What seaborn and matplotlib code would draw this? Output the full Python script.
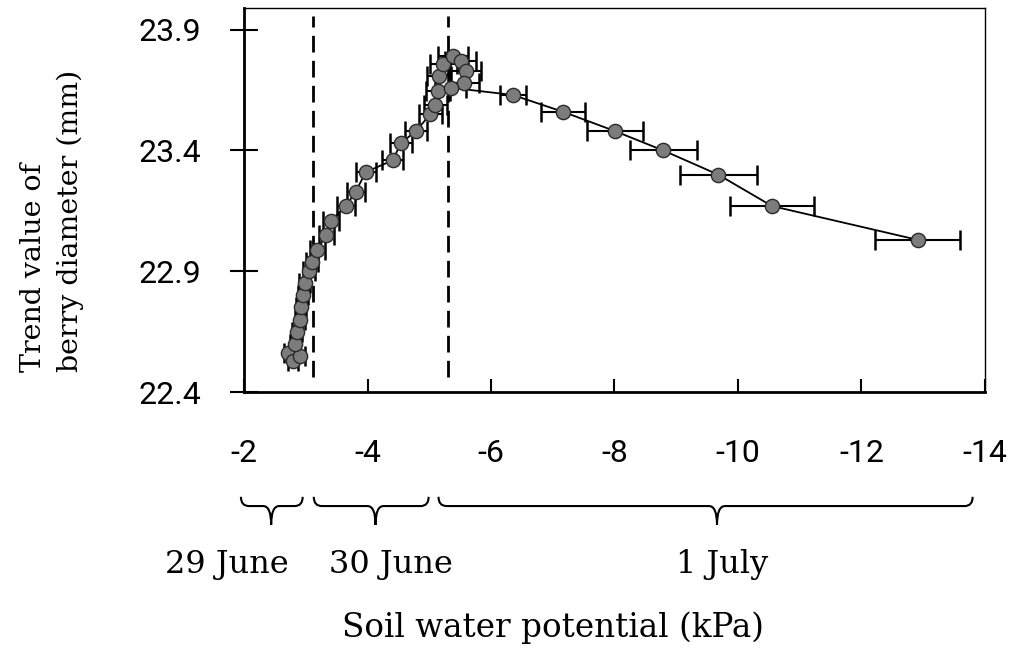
import numpy as np
import pandas as pd
import matplotlib
matplotlib.use("Agg")
import matplotlib.pyplot as plt
import matplotlib.transforms as mtransforms
from matplotlib.path import Path
from matplotlib.patches import PathPatch
import seaborn as sns

# ---------------- data ----------------
soil_kpa = [-2.72, -2.80, -2.90, -2.82, -2.86, -2.90, -2.93, -2.95, -2.98, -3.05, -3.10,
            -3.19, -3.33, -3.41, -3.65, -3.81, -3.97, -4.41, -4.54, -4.78, -5.02, -5.10,
            -5.14, -5.16, -5.23, -5.38, -5.51, -5.59, -5.56, -5.35,
            -6.35, -7.17, -8.01, -8.79, -9.68, -10.55, -12.91]
diameter_mm = [22.56, 22.53, 22.55, 22.60, 22.65, 22.70, 22.75, 22.80, 22.85, 22.90, 22.94,
               22.99, 23.05, 23.11, 23.17, 23.23, 23.31, 23.36, 23.43, 23.48, 23.55, 23.59,
               23.645, 23.71, 23.76, 23.79, 23.77, 23.73, 23.68, 23.66,
               23.63, 23.56, 23.48, 23.40, 23.30, 23.17, 23.03]
soil_err = [0.08, 0.08, 0.08, 0.08, 0.08, 0.08, 0.08, 0.08, 0.09, 0.10, 0.10,
            0.12, 0.12, 0.13, 0.14, 0.15, 0.16, 0.17, 0.18, 0.18, 0.19, 0.19,
            0.20, 0.20, 0.22, 0.24, 0.25, 0.25, 0.25, 0.25,
            0.21, 0.36, 0.45, 0.54, 0.62, 0.68, 0.69]

phase_boundaries = [-3.12, -5.30]
date_labels = ["29 June", "30 June", "1 July"]
date_spans = [(-1.95, -2.95), (-3.13, -4.99), (-5.15, -13.8)]
date_tips = [-2.44, -4.13, -9.66]
date_label_x = [-1.725, -4.377, -9.745]

x_ticks = [-2, -4, -6, -8, -10, -12, -14]
y_ticks = [22.4, 22.9, 23.4, 23.9]

df = pd.DataFrame({"soil": soil_kpa, "diam": diameter_mm, "err": soil_err})

# ---------------- style ----------------
sns.set_style("ticks")
plt.rcParams["font.family"] = ["DejaVu Serif"]
plt.rcParams["text.color"] = "black"
plt.rcParams["xtick.color"] = "black"
plt.rcParams["ytick.color"] = "black"

fig = plt.figure(figsize=(10.15, 6.57), dpi=100)
ax = fig.add_axes([244 / 1015, 1 - 392 / 657, (985 - 244) / 1015, (392 - 8) / 657])

# trend line
sns.lineplot(data=df, x="soil", y="diam", sort=False, color="black", lw=1.3, ax=ax,
             zorder=2, estimator=None)
# error bars
ax.errorbar(df["soil"], df["diam"], xerr=df["err"], fmt="none", ecolor="black",
            elinewidth=1.5, capsize=7, capthick=1.8, zorder=3)
# markers
sns.scatterplot(data=df, x="soil", y="diam", s=105, color="#7c7c7c", edgecolor="#2a2a2a",
                linewidth=1.0, ax=ax, zorder=4)

# dashed phase lines
for xb in phase_boundaries:
    ax.axvline(xb, ymin=0.04, ymax=0.98, color="black", lw=2.0, ls=(0, (6, 3)), zorder=1)

ax.set_xlim(-2, -14)
ax.set_ylim(22.4, 23.99)
ax.set_xticks(x_ticks)
ax.set_xticklabels([str(t) for t in x_ticks])
ax.set_yticks(y_ticks)
ax.set_yticklabels([f"{t:.1f}" for t in y_ticks])
ax.tick_params(axis="x", direction="in", length=9.5, width=1.5, pad=34, labelsize=23)
ax.tick_params(axis="y", direction="inout", length=20, width=1.5, pad=21, labelsize=23)
for lab in ax.get_xticklabels() + ax.get_yticklabels():
    lab.set_fontfamily(["Roboto", "DejaVu Sans"])
    lab.set_fontweight("normal")
ax.set_xlabel("")
ax.set_ylabel("")
for side, sp in ax.spines.items():
    sp.set_color("black")
    sp.set_linewidth(2.0 if side in ("left", "bottom") else 1.0)

# braces + date labels
trans = mtransforms.blended_transform_factory(ax.transData, ax.transAxes)
yt, ym, yb = -0.273, -0.297, -0.346
d = 0.13
for (xl, xr), xt in zip(date_spans, date_tips):
    verts = [(xl, yt), (xl, ym), (xl - d, ym), (xt + d, ym), (xt, ym), (xt, yb),
             (xt, ym), (xt - d, ym), (xr + d, ym), (xr, ym), (xr, yt)]
    codes = [Path.MOVETO, Path.CURVE3, Path.CURVE3, Path.LINETO, Path.CURVE3, Path.CURVE3,
             Path.CURVE3, Path.CURVE3, Path.LINETO, Path.CURVE3, Path.CURVE3]
    ax.add_patch(PathPatch(Path(verts, codes), transform=trans, fill=False,
                           edgecolor="black", lw=1.5, clip_on=False))
for lab, xl in zip(date_labels, date_label_x):
    ax.text(xl, -0.45, lab, transform=trans, ha="center", va="center", fontsize=23)

ax.text(-7.01, -0.615, "Soil water potential (kPa)", transform=trans,
        ha="center", va="center", fontsize=23.5)
fig.text(52 / 1015, 1 - 221 / 657, "Trend value of\nberry diameter (mm)", rotation=90,
         ha="center", va="center", multialignment="left", fontsize=20.5, linespacing=1.45)

fig.savefig("out.png", dpi=100)
